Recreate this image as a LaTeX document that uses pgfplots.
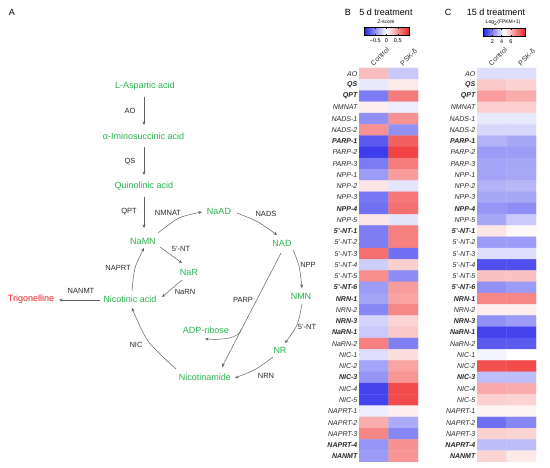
\documentclass[border=0pt]{standalone}
\usepackage{fontspec}
\setmainfont{Liberation Sans}
\usepackage{pgfplots}
\pgfplotsset{compat=1.18}
\usepackage{pgfplotstable}
\usetikzlibrary{arrows.meta}

\definecolor{metgreen}{RGB}{40,178,80}
\definecolor{trigred}{RGB}{235,30,40}
\definecolor{arrgray}{RGB}{95,95,95}
\newcommand\bi[1]{\textbf{#1}}

% 5 d treatment, z-score (x: 0 = Control, 1 = PSK-delta; y: 34 = AO ... 0 = NANMT)
\pgfplotstableread{
x y c
0 34 0.30
1 34 -0.25
0 33 -0.10
1 33 0.10
0 32 -0.60
1 32 0.60
0 31 0.08
1 31 -0.08
0 30 -0.50
1 30 0.50
0 29 0.50
1 29 -0.50
0 28 -0.75
1 28 0.72
0 27 -0.88
1 27 0.85
0 26 -0.60
1 26 0.60
0 25 -0.45
1 25 0.45
0 24 0.12
1 24 -0.12
0 23 -0.62
1 23 0.62
0 22 -0.65
1 22 0.65
0 21 0.12
1 21 -0.12
0 20 -0.58
1 20 0.58
0 19 -0.58
1 19 0.58
0 18 0.65
1 18 -0.65
0 17 -0.22
1 17 0.22
0 16 0.52
1 16 -0.52
0 15 -0.45
1 15 0.45
0 14 -0.42
1 14 0.42
0 13 -0.55
1 13 0.55
0 12 -0.20
1 12 0.20
0 11 -0.25
1 11 0.25
0 10 0.58
1 10 -0.58
0 9 -0.15
1 9 0.15
0 8 -0.42
1 8 0.42
0 7 -0.48
1 7 0.48
0 6 -0.85
1 6 0.82
0 5 -0.85
1 5 0.82
0 4 -0.08
1 4 0.08
0 3 0.38
1 3 -0.38
0 2 0.55
1 2 -0.55
0 1 -0.48
1 1 0.50
0 0 -0.45
1 0 0.48
}\fiveday

% 15 d treatment, log2(FPKM+1)
\pgfplotstableread{
x y c
0 34 3.83
1 34 3.83
0 33 5.63
1 33 5.40
0 32 6.53
1 32 6.21
0 31 5.49
1 31 5.49
0 30 4.05
1 30 4.05
0 29 3.69
1 29 3.69
0 28 2.93
1 28 2.70
0 27 2.48
1 27 2.48
0 26 2.61
1 26 2.70
0 25 2.61
1 25 2.70
0 24 2.93
1 24 3.02
0 23 2.70
1 23 2.70
0 22 2.34
1 22 2.16
0 21 2.70
1 21 3.38
0 20 5.04
1 20 4.64
0 19 2.48
1 19 2.48
0 18 3.83
1 18 3.83
0 17 0.90
1 17 0.90
0 16 5.76
1 16 5.76
0 15 2.25
1 15 2.48
0 14 6.98
1 14 6.98
0 13 4.86
1 13 4.86
0 12 2.25
1 12 2.48
0 11 0.68
1 11 0.68
0 10 1.13
1 10 1.13
0 9 4.28
1 9 4.50
0 8 8.10
1 8 8.19
0 7 3.15
1 7 3.15
0 6 6.30
1 6 6.21
0 5 5.49
1 5 5.40
0 4 4.73
1 4 4.73
0 3 1.58
1 3 2.03
0 2 5.49
1 2 5.40
0 1 3.15
1 1 3.15
0 0 5.40
1 0 4.95
}\fifteenday

\pgfplotsset{
  heat/.style={
    scale only axis, width=59pt, height=394pt, anchor=north west,
    xmin=-0.5, xmax=1.5, ymin=-0.5, ymax=34.5,
    xtick={0,1}, xticklabels={Control,PSK-δ}, xticklabel pos=upper,
    xticklabel style={rotate=45, anchor=south west, inner sep=1pt,
      font=\fontsize{7}{8}\selectfont, text=black!80},
    ytick={0,...,34},
    yticklabels={\bi{NANMT},\bi{NAPRT-4},NAPRT-3,NAPRT-2,NAPRT-1,NIC-5,NIC-4,\bi{NIC-3},NIC-2,NIC-1,
      NaRN-2,\bi{NaRN-1},\bi{NRN-3},NRN-2,\bi{NRN-1},\bi{5'-NT-6},5'-NT-5,5'-NT-4,5'-NT-3,5'-NT-2,
      \bi{5'-NT-1},NPP-5,\bi{NPP-4},NPP-3,NPP-2,NPP-1,PARP-3,PARP-2,\bi{PARP-1},NADS-2,
      NADS-1,NMNAT,\bi{QPT},\bi{QS},AO},
    yticklabel style={font=\itshape\fontsize{7}{8}\selectfont, inner sep=1.5pt, text=black!85},
    axis line style={draw=none}, major tick length=0pt,
    colormap={bwr}{rgb255=(35,35,235) rgb255=(255,255,255) rgb255=(240,35,35)},
    colorbar horizontal,
  },
  cbar/.style={
    at={(parent axis.north)}, anchor=south,
    scale only axis, height=8pt,
    xticklabel pos=lower, ytick=\empty,
    xticklabel style={rotate=0, anchor=north, inner sep=1pt, yshift=-2.5pt,
      font=\fontsize{5.5}{6}\selectfont, text=black},
    major tick length=1.5pt, tick style={draw=black, line width=0.4pt},
    axis line style={draw=black, line width=0.4pt},
  },
}

\begin{document}
\begin{tikzpicture}
\path[use as bounding box] (0pt,0pt) rectangle (550pt,-468pt);

% ---- panel A: pathway ----
\begin{scope}[x=1pt, y=-1pt,
  met/.style={text=metgreen, inner sep=0pt, font=\fontsize{9}{10}\selectfont},
  enz/.style={text=black!85, inner sep=0pt, font=\fontsize{7.5}{9}\selectfont},
  arr/.style={draw=arrgray, line width=0.5pt, -{Stealth[length=3.5pt,width=3pt]}}]
\node[inner sep=0pt, font=\fontsize{9}{10}\selectfont] at (12,12) {A};

\node[met] at (145,86) {L-Aspartic acid};
\node[met] at (143.5,136) {α-Iminosuccinic acid};
\node[met] at (144,186) {Quinolinic acid};
\node[met] at (143,241) {NaMN};
\node[met] at (219,211) {NaAD};
\node[met] at (282,243) {NAD};
\node[met] at (301,296) {NMN};
\node[met] at (280,350) {NR};
\node[met] at (205,377) {Nicotinamide};
\node[met] at (206,330) {ADP-ribose};
\node[met] at (189,272) {NaR};
\node[met] at (130,299) {Nicotinic acid};
\node[met, text=trigred] at (31,299) {Trigonelline};

\node[enz] at (130,111) {AO};
\node[enz] at (130,162) {QS};
\node[enz] at (129,212) {QPT};
\node[enz] at (168,213) {NMNAT};
\node[enz] at (266,214) {NADS};
\node[enz] at (308,265) {NPP};
\node[enz] at (307,327) {5'-NT};
\node[enz] at (266,376) {NRN};
\node[enz] at (243,300) {PARP};
\node[enz] at (181,249) {5'-NT};
\node[enz] at (185,292) {NaRN};
\node[enz] at (118,268) {NAPRT};
\node[enz] at (81,291) {NANMT};
\node[enz] at (136,345) {NIC};

\draw[arr] (144,97) -- (144,125);
\draw[arr] (144,147) -- (144,175);
\draw[arr] (144,197) -- (144,228);
\draw[arr] plot[smooth] coordinates {(158,233) (179,218) (202,212)};
\draw[arr] plot[smooth] coordinates {(237,213) (258,222) (277,235)};
\draw[arr] plot[smooth] coordinates {(293,250) (299,266) (302,288)};
\draw[arr] plot[smooth] coordinates {(302,304) (297,325) (285,343)};
\draw[arr] plot[smooth] coordinates {(273,357) (256,369) (235,378)};
\draw[arr] plot[smooth] coordinates {(176,369) (148,341) (132,308)};
\draw[arr] plot[smooth] coordinates {(132,291) (135,268) (144,248)};
\draw[arr] (160,247) -- (182,263);
\draw[arr] (182,280) -- (162,297);
\draw[arr] (100,300) -- (59,300);
\draw[arr] (281,253) -- (222,367);
\draw[arr] (241,330) .. controls (238,338) and (225,340) .. (205,339);

% ---- headings of B and C ----
\node[inner sep=0pt, font=\fontsize{9}{10}\selectfont] at (348,12) {B};
\node[inner sep=0pt, font=\fontsize{9}{10}\selectfont] at (448,12) {C};
\node[inner sep=0pt, font=\fontsize{9}{10}\selectfont] at (386,12) {5 d treatment};
\node[inner sep=0pt, font=\fontsize{9}{10}\selectfont] at (496,12) {15 d treatment};
\node[inner sep=0pt, font=\fontsize{5}{6}\selectfont] at (386,21.5) {Z-score};
\node[inner sep=0pt, font=\fontsize{5}{6}\selectfont] at (503,22.5) {Log\textsubscript{2}(FPKM+1)};
\end{scope}

% ---- panel B ----
\begin{axis}[heat, at={(359pt,-68pt)},
  point meta min=-1, point meta max=1,
  colorbar style={cbar, width=45pt, xshift=-2pt, yshift=41.5pt,
    xtick={-0.5,0,0.5}, xticklabels={−0.5,0,0.5}}]
\addplot[matrix plot*, mesh/cols=2, point meta=explicit] table[x=x, y=y, meta=c] {\fiveday};
\end{axis}

% ---- panel C ----
\begin{axis}[heat, at={(477pt,-68pt)},
  point meta min=0, point meta max=9,
  colorbar style={cbar, width=42pt, xshift=-2.5pt, yshift=40.5pt,
    xtick={2,4,6}, xticklabels={2,4,6}}]
\addplot[matrix plot*, mesh/cols=2, point meta=explicit] table[x=x, y=y, meta=c] {\fifteenday};
\end{axis}
\end{tikzpicture}
\end{document}
